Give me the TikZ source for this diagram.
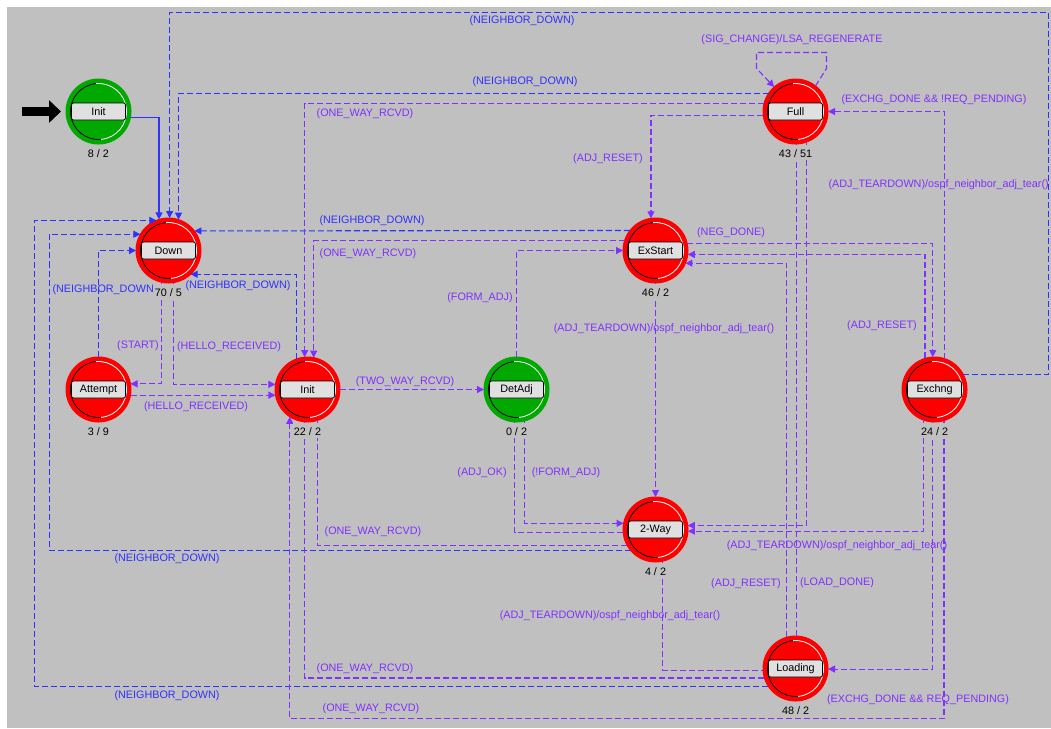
\documentclass[tikz,border=0pt]{standalone}
\usepackage{fontspec}
\setmainfont{Liberation Sans}
\usetikzlibrary{arrows.meta,calc}

\definecolor{bg}{RGB}{192,192,192}
\definecolor{boxgray}{RGB}{224,224,224}
\definecolor{stred}{RGB}{255,0,0}
\definecolor{stgreen}{RGB}{0,168,0}
\definecolor{trblue}{RGB}{48,48,255}
\definecolor{trpurple}{RGB}{128,48,255}

\begin{document}
\begin{tikzpicture}[x=1pt,y=-1pt,
        font=\fontsize{10.8}{13}\selectfont,
        >={Triangle[length=7pt,width=7pt]},
        fsm/.style={circle,minimum size=65pt,inner sep=0pt,outer sep=0pt,line width=1pt,
            path picture={
                \draw[black,line width=0.8pt] ([shift={(95:28pt)}]path picture bounding box.center)
                    arc[start angle=95,end angle=275,radius=28pt];
                \draw[white,line width=0.8pt] ([shift={(-85:28pt)}]path picture bounding box.center)
                    arc[start angle=-85,end angle=95,radius=28pt];}},
        namebox/.style={rectangle,rounded corners=2pt,fill=boxgray,draw=black,line width=0.8pt,
            minimum width=54pt,minimum height=17pt,inner sep=0pt,text=black},
        cnt/.style={anchor=base,fill=bg,text height=13pt,text depth=2pt,inner xsep=1pt,inner ysep=0pt,text=black},
        trline/.style={trpurple,line width=1.1pt,dash pattern=on 6pt off 3pt},
        ndline/.style={trblue,line width=1.1pt,dash pattern=on 6pt off 3pt},
        trlbl/.style={text=trpurple,inner sep=0pt},
        ndlbl/.style={text=trblue,inner sep=0pt}]
    \useasboundingbox (0,0) rectangle (1051,728);
    \fill[white] (0,0) rectangle (1051,728);
    \fill[bg] (7,7) rectangle (1051,728);

    % states
    \foreach \name/\px/\py/\txt/\col in {init0/98.5/111.5/Init/stgreen,
            down/168.5/250.5/Down/stred, attempt/98.5/389.5/Attempt/stred,
            init/307.5/389.5/Init/stred, detadj/516.5/389.5/DetAdj/stgreen,
            exstart/655.5/250.5/ExStart/stred, full/795.5/111.5/Full/stred,
            exchng/934.5/389.5/Exchng/stred, twoway/655.5/529.5/2-Way/stred,
            loading/795.5/668.5/Loading/stred}
        {
            \node[fsm,fill=\col,draw=\col] (\name) at (\px,\py) {};
            \node[namebox] (\name-box) at (\name) {\txt};
        }

    \coordinate (entry) at (22,111.5);
    \draw[line width=9pt,-{Triangle[length=12pt,width=22pt]},shorten >=5pt] (entry) -- (init0.west);

    % NEIGHBOR_DOWN transitions
    \draw[trblue,line width=1.1pt,->] (init0.-10.63875) -| (down.107.9202);
    \draw[ndline,->] (exchng.27.4864) -| (1048.5,12.5) -| (down.88.2368);
    \draw[ndline,->] (full.146.36876) -| (down.72.0798);
    \draw[ndline,->] (exstart.142.0201) -- (down.37.9799);
    \draw[ndline,->] (init.109.78317) |- (down.-47.6005);
    \draw[ndline,->] (attempt.north) |- (down.west);
    \draw[ndline,->] (loading.213.63124) -| (34.5,0 |- down.112.6199) -- (down.112.6199);
    \draw[ndline,->] (twoway.220.2522) -| (49.5,0 |- down.150.50766) -- (down.150.50766);

    % other transitions
    \draw[trline,->] (down.-102.43808) |- (attempt.10.63875);
    \draw[trline,->] (down.-81.1501) |- (init.171.1501);
    \draw[trline,->] (attempt.-10.63875) -- (init.190.63875);
    \draw[trline,->] (init.east) -- (detadj.west);
    \draw[trline,->] (detadj.north) |- (exstart.west);
    \draw[trline,->] (detadj.-75.74996) |- (twoway.169.36125);
    \draw[trline] (twoway.185.2964) -| (detadj.-93.52813);
    \draw[trline,->] (full.165.74996) -| (init.95.2964);
    \draw[trline,->] (exstart.162.0798) -| (init.79.36125);
    \draw[trline,->] (exchng.-73.92333) |- (init.-123.63124 |- 0,718.5) -- (init.-123.63124);
    \draw[trline] (loading.197.9202) -| (init.-95.2964);
    \draw[trline] (twoway.209.49234) -| (init.-72.0798);
    \draw[trline,->] (full.187.06972) -| (exstart.98.8499);
    \draw[trline,->] (full.52) -- (826.5,68.5) -- (826.5,52.5) -- (756.5,52.5) -- (756.5,68.5) -- (full.131);
    \draw[trline,->] (exchng.72.0798) |- (full.east);
    \draw[trline,->] (full.-70.21683) |- (twoway.7.06972);
    \draw[trline] (loading.88.2368) -- (full.-88.2368);
    \draw[trline,->] (loading.106.07667) |- (exstart.-23.57818);
    \draw[trline,->] (exchng.107.9202) |- (exstart.-7.06972);
    \draw[trline,->] (exstart.12.43808) -| (exchng.93.52813);
    \draw[trline,->] (exchng.-93.52813) |- (loading.-1.7632);
    \draw[trline,->] (exchng.-109.78317) |- (twoway.-3.52813);
    \draw[trline,->] (exstart.south) -- (twoway.north);
    \draw[trline] (twoway.-77.56192) |- (loading.183.52813);

    % labels
    \node[ndlbl] (l-nd1) at (522,21) {(NEIGHBOR\_DOWN)};
    \node[ndlbl] (l-nd2) at (525,82) {(NEIGHBOR\_DOWN)};
    \node[ndlbl] (l-nd3) at (372,221) {(NEIGHBOR\_DOWN)};
    \node[ndlbl] (l-nd4) at (105,290) {(NEIGHBOR\_DOWN)};
    \node[ndlbl] (l-nd5) at (238,286) {(NEIGHBOR\_DOWN)};
    \node[ndlbl] (l-nd6) at (167,559) {(NEIGHBOR\_DOWN)};
    \node[ndlbl] (l-nd7) at (167,696) {(NEIGHBOR\_DOWN)};
    \node[trlbl] (l-ow1) at (365,114) {(ONE\_WAY\_RCVD)};
    \node[trlbl] (l-ow2) at (368,254) {(ONE\_WAY\_RCVD)};
    \node[trlbl] (l-ow3) at (373,532) {(ONE\_WAY\_RCVD)};
    \node[trlbl] (l-ow4) at (365,669) {(ONE\_WAY\_RCVD)};
    \node[trlbl] (l-ow5) at (371,709) {(ONE\_WAY\_RCVD)};
    \node[trlbl] (l-rs1) at (608,159) {(ADJ\_RESET)};
    \node[trlbl] (l-rs2) at (882,326) {(ADJ\_RESET)};
    \node[trlbl] (l-rs3) at (746,584) {(ADJ\_RESET)};
    \node[trlbl] (l-sig) at (792,40) {(SIG\_CHANGE)/LSA\_REGENERATE};
    \node[trlbl] (l-ex1) at (934,100) {(EXCHG\_DONE \&\& !REQ\_PENDING)};
    \node[trlbl] (l-ex2) at (918,700) {(EXCHG\_DONE \&\& REQ\_PENDING)};
    \node[trlbl,anchor=east] (l-td1) at (1049,185) {(ADJ\_TEARDOWN)/ospf\_neighbor\_adj\_tear()};
    \node[trlbl] (l-td2) at (664,329) {(ADJ\_TEARDOWN)/ospf\_neighbor\_adj\_tear()};
    \node[trlbl] (l-td3) at (837,546) {(ADJ\_TEARDOWN)/ospf\_neighbor\_adj\_tear()};
    \node[trlbl] (l-td4) at (610,616) {(ADJ\_TEARDOWN)/ospf\_neighbor\_adj\_tear()};
    \node[trlbl] (l-neg) at (731,233) {(NEG\_DONE)};
    \node[trlbl] (l-st) at (138,346) {(START)};
    \node[trlbl] (l-he1) at (229,347) {(HELLO\_RECEIVED)};
    \node[trlbl] (l-he2) at (196,407) {(HELLO\_RECEIVED)};
    \node[trlbl] (l-two) at (405,382) {(TWO\_WAY\_RCVD)};
    \node[trlbl] (l-fa) at (480,298) {(FORM\_ADJ)};
    \node[trlbl] (l-ok) at (482,473) {(ADJ\_OK)};
    \node[trlbl] (l-nfa) at (566,473) {(!FORM\_ADJ)};
    \node[trlbl] (l-ld) at (837,583) {(LOAD\_DONE)};

    % counts, drawn last so they cover the line ends below the states
    \foreach \name/\ca/\cb in {init0/8/2, down/70/5, attempt/3/9, init/22/2, detadj/0/2,
            exstart/46/2, full/43/51, exchng/24/2, twoway/4/2, loading/48/2}
        {
            \node[cnt] (\name-cnt) at ($(\name)+(0,46)$) {\ca\ /\ \cb};
        }
\end{tikzpicture}
\end{document}
